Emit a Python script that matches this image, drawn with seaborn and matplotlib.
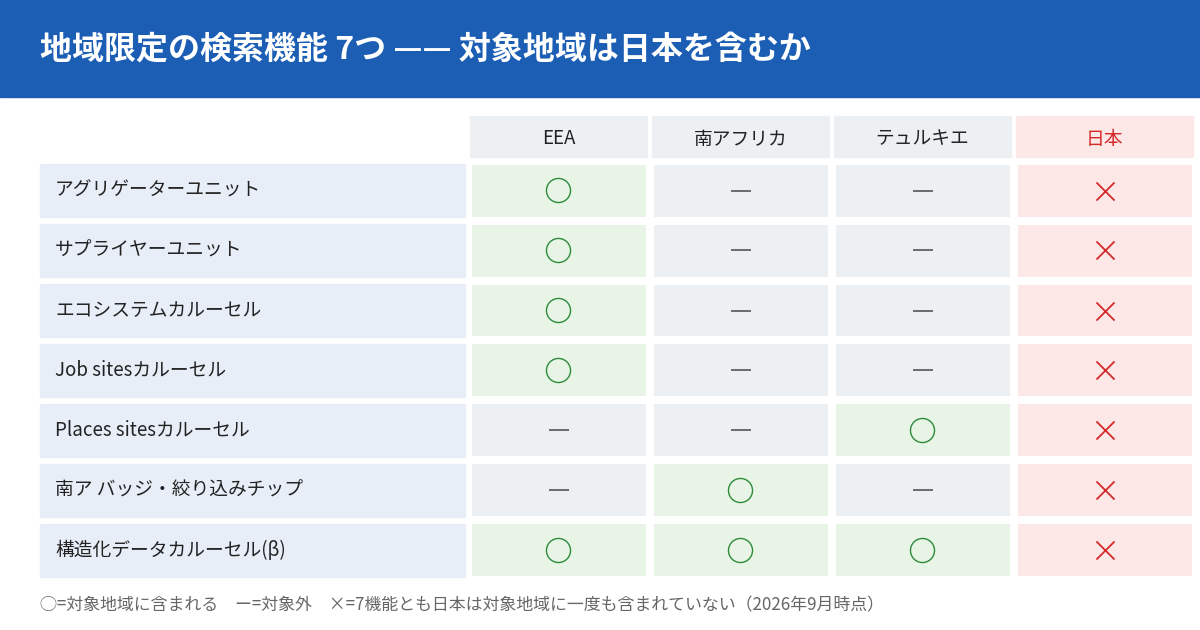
import matplotlib
matplotlib.use("Agg")
import matplotlib.pyplot as plt
import seaborn as sns
import numpy as np
from matplotlib.colors import ListedColormap
from matplotlib.patches import Rectangle

sns.set_theme(style="white")
plt.rcParams['font.family'] = ['Noto Sans CJK JP', 'DejaVu Sans']

title = "地域限定の検索機能 7つ —— 対象地域は日本を含むか"
regions = ["EEA", "南アフリカ", "テュルキエ", "日本"]
features = ["アグリゲーターユニット", "サプライヤーユニット", "エコシステムカルーセル",
            "Job sitesカルーセル", "Places sitesカルーセル", "南ア バッジ・絞り込みチップ",
            "構造化データカルーセル(β)"]
# 1 = 対象地域, 0 = 対象外, 2 = 日本(含まれない)
status = [
    [1, 0, 0, 2],
    [1, 0, 0, 2],
    [1, 0, 0, 2],
    [1, 0, 0, 2],
    [0, 0, 1, 2],
    [0, 1, 0, 2],
    [1, 1, 1, 2],
]
footnote = "◯=対象地域に含まれる　ー=対象外　×=7機能とも日本は対象地域に一度も含まれていない（2026年9月時点）"

W, H = 1200, 630
fig = plt.figure(figsize=(12, 6.3), dpi=100)
bg = fig.add_axes([0, 0, 1, 1])
bg.set_xlim(0, W); bg.set_ylim(H, 0); bg.axis("off")
bg.add_patch(Rectangle((0, 0), W, 97, color="#1B5EB4"))
bg.text(40, 50, title, color="white", fontsize=23, fontweight="bold", va="center")

col_x = [470, 652, 834, 1016]
for j, r in enumerate(regions):
    jp = r == "日本"
    bg.add_patch(Rectangle((col_x[j], 116), 177, 41, color="#FDE8E8" if jp else "#EDF0F3"))
    bg.text(col_x[j] + 88.5, 139, r, ha="center", va="center", fontsize=13.5,
            color="#D42A2A" if jp else "#222222")
for i, f in enumerate(features):
    y = 164 + 60 * i
    bg.add_patch(Rectangle((40, y), 425, 53, color="#E8EEF8"))
    bg.text(55, y + 26.5, f, va="center", fontsize=13.5, color="#222222")
bg.text(40, 605, footnote, va="center", fontsize=12.2, color="#666666")

ax = fig.add_axes([467.5 / W, 1 - 580.5 / H, (1195.5 - 467.5) / W, (580.5 - 160.5) / H])
cmap = ListedColormap(["#EDF0F3", "#E8F4E6", "#FDE8E8"])
arr = np.array(status)
sns.heatmap(arr, ax=ax, cmap=cmap, vmin=-0.5, vmax=2.5, cbar=False,
            linewidths=4.5, linecolor="white", xticklabels=False, yticklabels=False)
for i in range(arr.shape[0]):
    for j in range(arr.shape[1]):
        v = arr[i, j]
        cx, cy = j + 0.5, i + 0.5
        if v == 1:
            ax.scatter(cx, cy, s=300, marker="o", facecolors="none", edgecolors="#2E8B3A", linewidths=1.0)
        elif v == 0:
            ax.scatter(cx, cy, s=220, marker="_", color="#555555", linewidths=1.2)
        else:
            ax.scatter(cx, cy, s=170, marker="x", color="#D42A2A", linewidths=1.3)

fig.savefig("out.png", dpi=100)
